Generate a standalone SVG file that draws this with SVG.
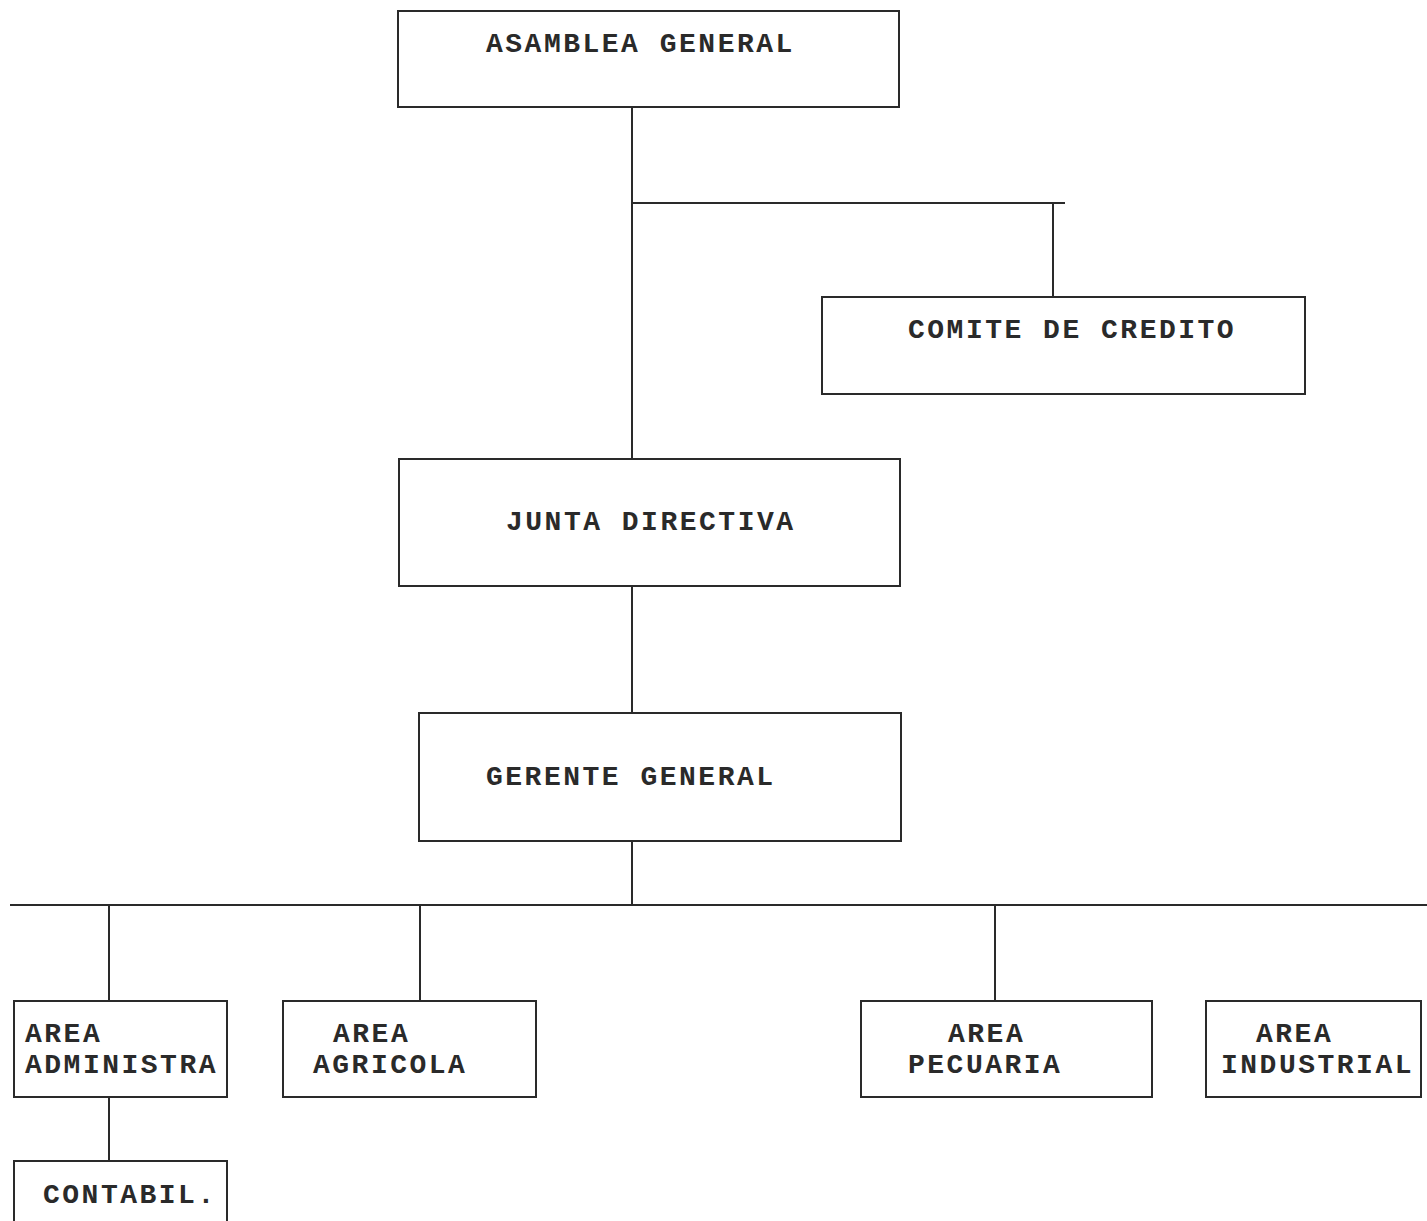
<svg xmlns="http://www.w3.org/2000/svg" width="1427" height="1221" viewBox="0 0 1427 1221">
<style>
.box{fill:none;stroke:#2a2a2a;stroke-width:2}
.ln{fill:none;stroke:#2a2a2a;stroke-width:2}
.t{font-family:"Liberation Mono","DejaVu Sans Mono",monospace;font-size:28px;font-weight:bold;fill:#2a2a2a;letter-spacing:2.5px}
</style>
<rect width="1427" height="1221" fill="#ffffff"/>
<g id="connectors">
<path class="ln" d="M632 107V459"/>
<path class="ln" d="M632 203H1065"/>
<path class="ln" d="M1053 203V297"/>
<path class="ln" d="M632 586V713"/>
<path class="ln" d="M632 841V905"/>
<path class="ln" d="M10 905H1427"/>
<path class="ln" d="M109 905V1001"/>
<path class="ln" d="M420 905V1001"/>
<path class="ln" d="M995 905V1001"/>
<path class="ln" d="M109 1097V1161"/>
</g>
<g id="asamblea">
<rect class="box" x="398" y="11" width="501" height="96"/>
<text class="t" x="486" y="52">ASAMBLEA GENERAL</text>
</g>
<g id="comite">
<rect class="box" x="822" y="297" width="483" height="97"/>
<text class="t" x="908" y="338">COMITE DE CREDITO</text>
</g>
<g id="junta">
<rect class="box" x="399" y="459" width="501" height="127"/>
<text class="t" x="506" y="530">JUNTA DIRECTIVA</text>
</g>
<g id="gerente">
<rect class="box" x="419" y="713" width="482" height="128"/>
<text class="t" x="486" y="785">GERENTE GENERAL</text>
</g>
<g id="administra">
<rect class="box" x="14" y="1001" width="213" height="96"/>
<text class="t" x="25" y="1042">AREA</text>
<text class="t" x="25" y="1073">ADMINISTRA</text>
</g>
<g id="agricola">
<rect class="box" x="283" y="1001" width="253" height="96"/>
<text class="t" x="333" y="1042">AREA</text>
<text class="t" x="313" y="1073">AGRICOLA</text>
</g>
<g id="pecuaria">
<rect class="box" x="861" y="1001" width="291" height="96"/>
<text class="t" x="948" y="1042">AREA</text>
<text class="t" x="908" y="1073">PECUARIA</text>
</g>
<g id="industrial">
<rect class="box" x="1206" y="1001" width="215" height="96"/>
<text class="t" x="1256" y="1042">AREA</text>
<text class="t" x="1221" y="1073">INDUSTRIAL</text>
</g>
<g id="contabil">
<rect class="box" x="14" y="1161" width="213" height="80"/>
<text class="t" x="43" y="1203">CONTABIL.</text>
</g>
</svg>
